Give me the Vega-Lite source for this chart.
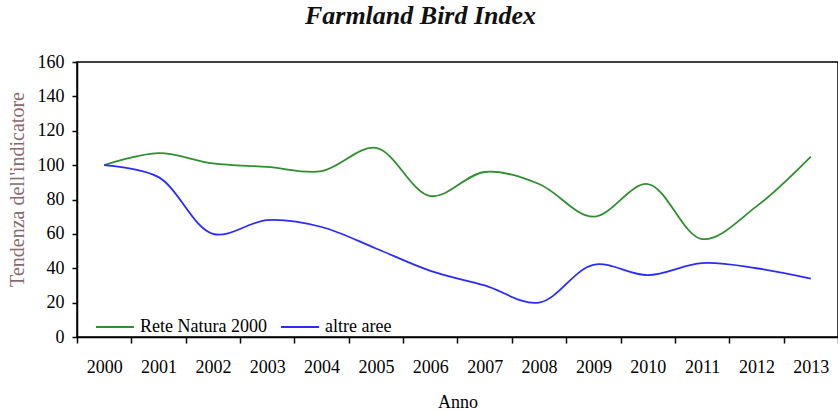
{
  "$schema": "https://vega.github.io/schema/vega-lite/v6.json",
  "autosize": {"type": "none"},
  "padding": {"left": 77, "top": 62, "right": 0, "bottom": 75},
  "width": 761,
  "height": 275,
  "background": "white",
  "title": {
    "text": "Farmland Bird Index",
    "font": "Liberation Serif",
    "fontSize": 26,
    "fontWeight": "bold",
    "fontStyle": "italic",
    "color": "#111111",
    "anchor": "middle",
    "dx": -37,
    "offset": 24
  },
  "data": {
    "values": [
      {"Anno": "2000", "serie": "Rete Natura 2000", "valore": 100},
      {"Anno": "2001", "serie": "Rete Natura 2000", "valore": 107},
      {"Anno": "2002", "serie": "Rete Natura 2000", "valore": 101},
      {"Anno": "2003", "serie": "Rete Natura 2000", "valore": 99},
      {"Anno": "2004", "serie": "Rete Natura 2000", "valore": 96.5},
      {"Anno": "2005", "serie": "Rete Natura 2000", "valore": 110},
      {"Anno": "2006", "serie": "Rete Natura 2000", "valore": 82},
      {"Anno": "2007", "serie": "Rete Natura 2000", "valore": 96},
      {"Anno": "2008", "serie": "Rete Natura 2000", "valore": 89},
      {"Anno": "2009", "serie": "Rete Natura 2000", "valore": 70},
      {"Anno": "2010", "serie": "Rete Natura 2000", "valore": 89},
      {"Anno": "2011", "serie": "Rete Natura 2000", "valore": 57},
      {"Anno": "2012", "serie": "Rete Natura 2000", "valore": 76},
      {"Anno": "2013", "serie": "Rete Natura 2000", "valore": 105},
      {"Anno": "2000", "serie": "altre aree", "valore": 100},
      {"Anno": "2001", "serie": "altre aree", "valore": 93},
      {"Anno": "2002", "serie": "altre aree", "valore": 60},
      {"Anno": "2003", "serie": "altre aree", "valore": 68},
      {"Anno": "2004", "serie": "altre aree", "valore": 64},
      {"Anno": "2005", "serie": "altre aree", "valore": 51.5},
      {"Anno": "2006", "serie": "altre aree", "valore": 38.5},
      {"Anno": "2007", "serie": "altre aree", "valore": 30},
      {"Anno": "2008", "serie": "altre aree", "valore": 20},
      {"Anno": "2009", "serie": "altre aree", "valore": 42},
      {"Anno": "2010", "serie": "altre aree", "valore": 36},
      {"Anno": "2011", "serie": "altre aree", "valore": 43},
      {"Anno": "2012", "serie": "altre aree", "valore": 40},
      {"Anno": "2013", "serie": "altre aree", "valore": 34}
    ]
  },
  "mark": {"type": "line", "interpolate": "catmull-rom", "strokeWidth": 1.8},
  "encoding": {
    "x": {
      "field": "Anno",
      "type": "ordinal",
      "scale": {"type": "band", "paddingInner": 0, "paddingOuter": 0},
      "axis": {
        "title": "Anno",
        "titleFont": "Liberation Serif",
        "titleFontSize": 18,
        "titleFontWeight": "normal",
        "titleColor": "black",
        "titlePadding": 17,
        "labelAngle": 0,
        "labelFont": "Liberation Serif",
        "labelFontSize": 18,
        "labelColor": "black",
        "labelPadding": 15,
        "tickBand": "extent",
        "tickSize": 6,
        "tickColor": "black",
        "domainColor": "black",
        "domainWidth": 1.5,
        "tickWidth": 1.5
      }
    },
    "y": {
      "field": "valore",
      "type": "quantitative",
      "scale": {"domain": [0, 160], "nice": false},
      "axis": {
        "title": "Tendenza dell'indicatore",
        "titleFont": "Liberation Serif",
        "titleFontSize": 20,
        "titleFontWeight": "normal",
        "titleColor": "#8a6a6a",
        "titlePadding": 10,
        "titleY": 127,
        "values": [0, 20, 40, 60, 80, 100, 120, 140, 160],
        "grid": false,
        "labelFont": "Liberation Serif",
        "labelFontSize": 18,
        "labelColor": "black",
        "labelPadding": 8,
        "tickSize": 5,
        "tickColor": "black",
        "domainColor": "black",
        "domainWidth": 1.5,
        "tickWidth": 1.5
      }
    },
    "color": {
      "field": "serie",
      "type": "nominal",
      "scale": {"domain": ["Rete Natura 2000", "altre aree"], "range": ["#2f8f2f", "#2b2bff"]},
      "legend": {
        "title": null,
        "orient": "none",
        "legendX": 18,
        "legendY": 245,
        "direction": "horizontal",
        "symbolType": "stroke",
        "symbolSize": 1444,
        "symbolStrokeWidth": 1.8,
        "labelFont": "Liberation Serif",
        "labelFontSize": 18,
        "labelColor": "black",
        "labelOffset": 5,
        "columnPadding": 10,
        "padding": 0
      }
    }
  },
  "config": {
    "view": {"stroke": "black", "strokeWidth": 1.5}
  }
}
